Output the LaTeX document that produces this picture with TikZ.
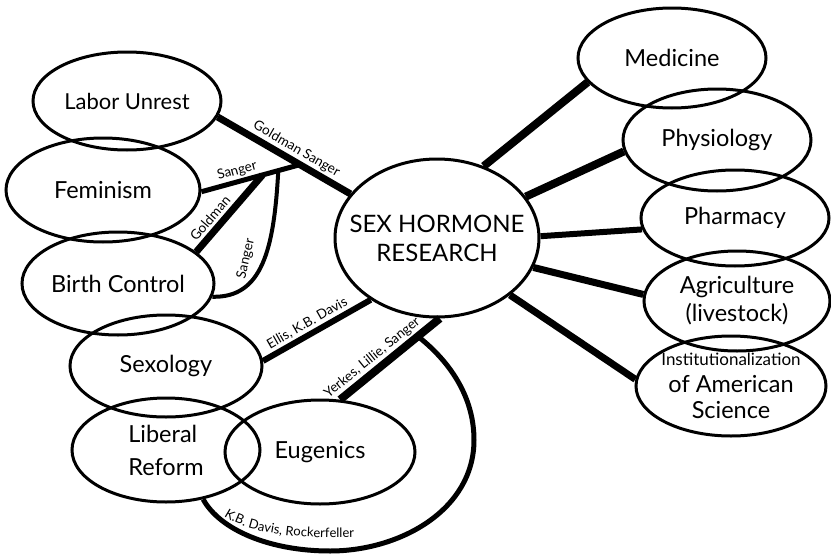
\documentclass[tikz,border=0pt]{standalone}
\usepackage{fontspec}
\setmainfont{Lato}
\usetikzlibrary{shapes.geometric,calc,decorations.text}
\begin{document}
\begin{tikzpicture}[x=1pt,y=-1pt,
  topic/.style={draw, ellipse, line width=3pt, inner sep=-24pt, align=center,
    font=\fontsize{23.5}{28}\selectfont},
  link/.style={line width=7pt},
  lbl/.style={font=\fontsize{13.5}{15}\selectfont, inner sep=2pt}]
\useasboundingbox (0,0) rectangle (831,557);
% right-hand topics
\node[topic, minimum width=188pt, minimum height=100pt] (med) at (672,58) {Medicine};
\node[topic, minimum width=188pt, minimum height=102pt] (phy) at (717,140) {Physiology};
\node[topic, minimum width=188pt, minimum height=96pt] (pha) at (735,218) {Pharmacy};
\node[topic, minimum width=186pt, minimum height=100pt] (agr) at (737,301) {Agriculture\\(livestock)};
\node[topic, minimum width=190pt, minimum height=100pt, font=\fontsize{23.5}{26.5}\selectfont] (ins) at (731,386)
  {{\fontsize{17}{20}\selectfont Institutionalization}\\of American\\Science};
% centre
\node[topic, minimum width=204pt, minimum height=158pt, font=\fontsize{24}{29}\selectfont] (c) at (437,238) {SEX HORMONE\\RESEARCH};
% left-hand topics
\node[topic, minimum width=188pt, minimum height=98pt, font=\fontsize{22}{28}\selectfont] (lab) at (127,101) {Labor Unrest};
\node[topic, minimum width=194pt, minimum height=104pt] (fem) at (103,190) {Feminism};
\node[topic, minimum width=192pt, minimum height=103pt] (bc) at (118,283.5) {Birth Control};
\node[topic, minimum width=192pt, minimum height=102pt] (sex) at (166,366) {Sexology};
\node[topic, minimum width=188pt, minimum height=104pt, align=left, font=\fontsize{23.5}{33}\selectfont] (lib) at (166,450) {Liberal\\Reform};
\node[topic, minimum width=190pt, minimum height=104pt] (eug) at (320,452) {Eugenics};
% right connectors
\draw[link, line width=8pt] (c.57) -- (med.196);
\draw[link, line width=8pt] (c.25.5) -- (phy.187);
\draw[link, line width=6pt] (c.1) -- (pha.187);
\draw[link] (c.-17.5) -- (agr.176);
\draw[link] (c.-38) -- (ins.176);
% left connectors
\draw[link] (lab.-10) -- coordinate[pos=0.62] (J)
  node[lbl, sloped, above, pos=0.55] (gs) {Goldman Sanger} (c.153);
\draw[link, line width=5pt] (fem.-1) -- coordinate[pos=0.62] (G) coordinate[pos=0.78] (S)
  node[lbl, sloped, above, pos=0.39] (sg1) {Sanger} (J);
\draw[link] (bc.22.6) -- node[lbl, sloped, above=1pt, pos=0.34] (gl) {Goldman} (G);
\draw[line width=4pt] (S) .. controls (274,250) and (262,298) .. (bc.-8.4);
\node[lbl, rotate=77] (sg2) at (246,259) {Sanger};
\draw[link, line width=6pt] (sex.3) --
  node[lbl, sloped, above, pos=0.46] (ekb) {Ellis, K.B. Davis} (c.223.7);
\draw[link, line width=8pt] (eug.69) -- coordinate[pos=0.78] (L)
  node[lbl, sloped, above, pos=0.40] (yls) {Yerkes, Lillie, Sanger} (c.-88);
\draw[line width=5pt] (L) .. controls (448,360) and (474,395) .. (474,440)
  .. controls (474,510) and (400,551) .. (330,551)
  .. controls (270,551) and (220,530) .. (lib.-53.5);
\path[decorate, decoration={text along path, text align=left,
  text={|\fontsize{13}{15}\selectfont|K.B. Davis, Rockerfeller}}]
  (224,516) .. controls (250,534) and (300,540) .. (370,537);
\end{tikzpicture}
\end{document}
